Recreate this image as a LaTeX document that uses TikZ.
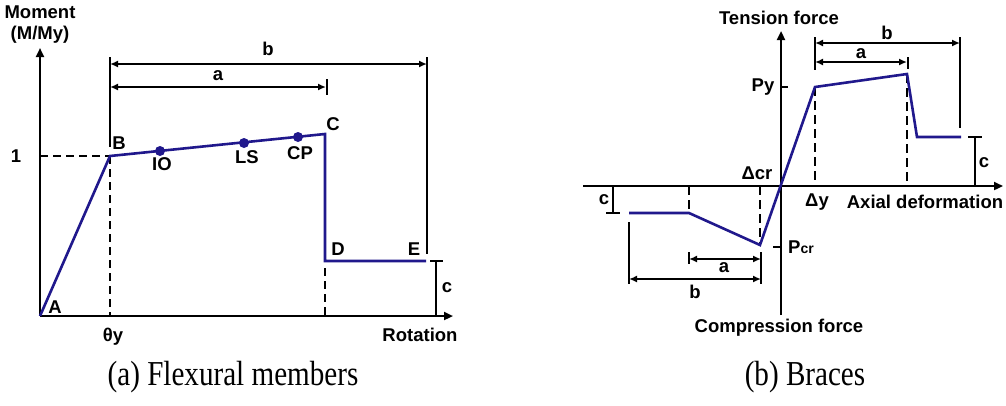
\documentclass[tikz,border=0pt]{standalone}
\usepackage{fontspec}
\setmainfont{Liberation Sans}
\newfontfamily\capfont{Liberation Serif}
\usetikzlibrary{arrows.meta}
\definecolor{curvecol}{RGB}{32,24,140}
\begin{document}
\begin{tikzpicture}[x=1pt,y=-1pt,
  axisline/.style={line width=2.2pt,-{Triangle[length=9pt,width=8pt]}},
  plainaxis/.style={line width=2.2pt},
  curveln/.style={draw=curvecol,line width=2.6pt,line join=miter},
  dimln/.style={line width=1.6pt,{Latex[length=8pt,width=7pt]}-{Latex[length=8pt,width=7pt]}},
  refln/.style={line width=1.6pt},
  dashln/.style={line width=1.8pt,dash pattern=on 8pt off 5pt},
  thindash/.style={line width=1.2pt,dash pattern=on 9pt off 5pt},
  lbl/.style={font=\bfseries\fontsize{18.5}{20}\selectfont,inner sep=0pt},
  caplbl/.style={font=\capfont\fontsize{28}{30}\selectfont,inner sep=0pt},
  dot/.style={circle,fill=curvecol,inner sep=0pt,minimum size=10pt}]
\useasboundingbox (0,0) rectangle (1006,405);

% ---------------- (a) flexural members ----------------
\coordinate (A) at (40,316);
\coordinate (ytopA) at (40,48);
\coordinate (xendA) at (453,316);
\coordinate (B) at (110,156);
\coordinate (C) at (325,134);
\coordinate (D) at (325,261);
\coordinate (E) at (426,261);
\coordinate (oneY) at (40,156);
\coordinate (thY) at (110,316);
\coordinate (dD1) at (325,268);
\coordinate (dD2) at (325,316);
\coordinate (bL1) at (110,57);
\coordinate (bL2) at (110,147);
\coordinate (bR1) at (427,57);
\coordinate (bR2) at (427,254);
\coordinate (bArL) at (110,64);
\coordinate (bArR) at (427,64);
\coordinate (aArL) at (110,87);
\coordinate (aArR) at (326,87);
\coordinate (aT1) at (327,79);
\coordinate (aT2) at (327,95);
\coordinate (cV1) at (436,261);
\coordinate (cV2) at (436,316);
\coordinate (cT1) at (430,261);
\coordinate (cT2) at (443,261);

\draw[axisline] (A) -- (ytopA);
\draw[axisline] (A) -- (xendA);
\draw[dashln] (oneY) -- (B);
\draw[dashln] (B) -- (thY);
\draw[dashln] (dD1) -- (dD2);
\draw[refln] (bL1) -- (bL2);
\draw[refln] (bR1) -- (bR2);
\draw[dimln] (bArL) -- (bArR);
\draw[dimln] (aArL) -- (aArR);
\draw[refln] (aT1) -- (aT2);
\draw[refln] (cV1) -- (cV2);
\draw[refln] (cT1) -- (cT2);
\draw[curveln] (A) -- (B) -- (C) -- (D) -- (E);
\node[dot] (IO) at (160,151) {};
\node[dot] (LS) at (244,143) {};
\node[dot] (CP) at (298,137) {};

\node[lbl] (moment) at (40,12) {Moment};
\node[lbl] (mmy) at (40,35) {(M/My)};
\node[lbl] (one) at (16,156) {1};
\node[lbl] (labA) at (55,307) {A};
\node[lbl] (labB) at (119,143) {B};
\node[lbl] (labC) at (333,124) {C};
\node[lbl] (labD) at (338,249) {D};
\node[lbl] (labE) at (414,249) {E};
\node[lbl] (labIO) at (162,164) {IO};
\node[lbl] (labLS) at (247,157) {LS};
\node[lbl] (labCP) at (300,153) {CP};
\node[lbl] (labaA) at (218,76) {a};
\node[lbl] (labbA) at (268,49) {b};
\node[lbl] (labcA) at (447,288) {c};
\node[lbl] (thetay) at (113,337) {θy};
\node[lbl] (rot) at (420,335) {Rotation};
\node[caplbl] (capA) at (233,377) {\scalebox{1.04}[1.25]{(a) Flexural members}};

% ---------------- (b) braces ----------------
\coordinate (O2) at (781,186);
\coordinate (ytopB) at (781,31);
\coordinate (ybotB) at (781,315);
\coordinate (xleftB) at (583,186);
\coordinate (xendB) at (1003,186);
\coordinate (P1) at (760,245);
\coordinate (P2) at (815,87);
\coordinate (P3) at (907,74);
\coordinate (P4) at (917,137);
\coordinate (P5) at (961,137);
\coordinate (L1) at (689,213);
\coordinate (L2) at (629,213);
\coordinate (dy0) at (815,186);
\coordinate (dp0) at (907,186);
\coordinate (dl0) at (689,186);
\coordinate (dc0) at (760,186);
\coordinate (tb1) at (815,37);
\coordinate (tb2) at (815,70);
\coordinate (tb3) at (960,37);
\coordinate (tb4) at (960,128);
\coordinate (tbL) at (815,43);
\coordinate (tbR) at (960,43);
\coordinate (taL) at (815,62);
\coordinate (taR) at (907,62);
\coordinate (ta1) at (908,57);
\coordinate (ta2) at (908,69);
\coordinate (rc1) at (975,137);
\coordinate (rc2) at (975,186);
\coordinate (rc3) at (968,137);
\coordinate (rc4) at (982,137);
\coordinate (lc1) at (613,186);
\coordinate (lc2) at (613,213);
\coordinate (lc3) at (606,213);
\coordinate (lc4) at (620,213);
\coordinate (lb1) at (629,222);
\coordinate (lb2) at (629,284);
\coordinate (lb3) at (761,252);
\coordinate (lb4) at (761,284);
\coordinate (lbL) at (629,279);
\coordinate (lbR) at (761,279);
\coordinate (laL) at (689,259);
\coordinate (laR) at (761,259);
\coordinate (la1) at (689,252);
\coordinate (la2) at (689,264);
\coordinate (pcr1) at (773,247);
\coordinate (pcr2) at (781,247);
\coordinate (py1) at (781,87);
\coordinate (py2) at (788,87);

\draw[plainaxis] (ybotB) -- (O2);
\draw[axisline] (O2) -- (ytopB);
\draw[axisline] (xleftB) -- (xendB);
\draw[refln] (pcr1) -- (pcr2);
\draw[refln] (py1) -- (py2);
\draw[thindash] (P2) -- (dy0);
\draw[thindash] (P3) -- (dp0);
\draw[thindash] (dl0) -- (L1);
\draw[thindash] (dc0) -- (P1);
\draw[refln] (tb1) -- (tb2);
\draw[refln] (tb3) -- (tb4);
\draw[dimln] (tbL) -- (tbR);
\draw[dimln] (taL) -- (taR);
\draw[refln] (ta1) -- (ta2);
\draw[refln] (rc1) -- (rc2);
\draw[refln] (rc3) -- (rc4);
\draw[refln] (lc1) -- (lc2);
\draw[refln] (lc3) -- (lc4);
\draw[refln] (lb1) -- (lb2);
\draw[refln] (lb3) -- (lb4);
\draw[dimln] (lbL) -- (lbR);
\draw[dimln] (laL) -- (laR);
\draw[refln] (la1) -- (la2);
\draw[curveln] (L2) -- (L1) -- (P1) -- (P2) -- (P3) -- (P4) -- (P5);

\node[lbl] (tens) at (779,18) {Tension force};
\node[lbl] (comp) at (779,328) {Compression force};
\node[lbl] (axd) at (925,202) {Axial deformation};
\node[lbl] (py) at (763,87) {Py};
\node[lbl] (pcr) at (801,247) {P{\fontsize{14}{16}\selectfont cr}};
\node[lbl] (dcr) at (757,173) {Δcr};
\node[lbl] (dy) at (817,202) {Δy};
\node[lbl] (labbB) at (887,33) {b};
\node[lbl] (labaB) at (861,54) {a};
\node[lbl] (labcB) at (984,163) {c};
\node[lbl] (labcL) at (604,200) {c};
\node[lbl] (labaL) at (724,268) {a};
\node[lbl] (labbL) at (695,292) {b};
\node[caplbl] (capB) at (805,377) {\scalebox{1.04}[1.25]{(b) Braces}};
\end{tikzpicture}
\end{document}
